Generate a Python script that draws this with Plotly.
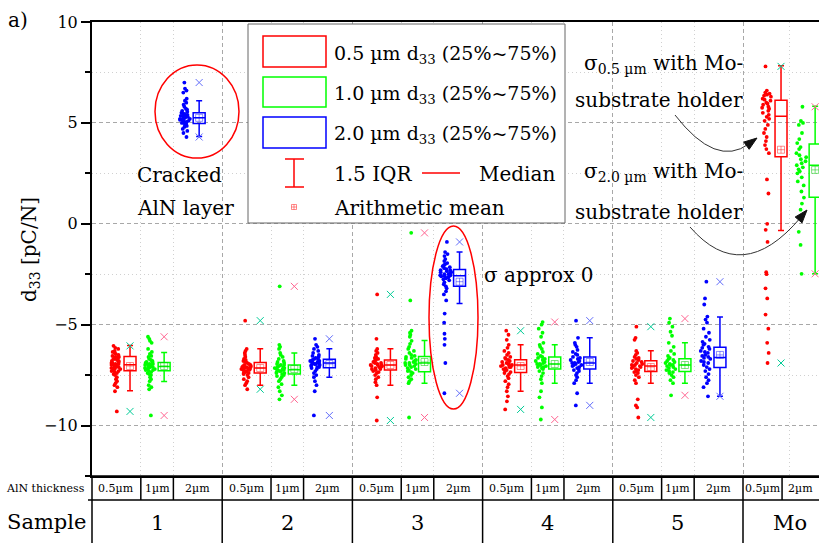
import plotly.graph_objects as go

# ---------------- data (d33 in pC/N) ----------------
samples = ["1", "2", "3", "4", "5", "Mo"]
thick_std = ["0.5µm", "1µm", "2µm"]
thick_mo = ["0.5µm", "2µm"]

s1_red = [-6.05, -6.15, -6.2, -6.3, -6.35, -6.4, -6.45, -6.5, -6.55, -6.6, -6.6, -6.65, -6.7, -6.7,
          -6.75, -6.8, -6.8, -6.85, -6.9, -6.9, -6.95, -6.95, -7.0, -7.0, -7.0, -7.05, -7.05, -7.1,
          -7.1, -7.15, -7.15, -7.2, -7.2, -7.25, -7.3, -7.3, -7.35, -7.4, -7.45, -7.5, -7.6, -7.7,
          -7.8, -7.9, -8.0, -8.1, -8.3, -9.3]
s1_green = [-5.6, -5.7, -5.8, -5.9, -6.2, -6.35, -6.45, -6.55, -6.6, -6.7, -6.75, -6.8, -6.85,
            -6.85, -6.9, -6.9, -6.95, -6.95, -7.0, -7.0, -7.0, -7.05, -7.05, -7.1, -7.1, -7.1,
            -7.15, -7.15, -7.2, -7.2, -7.25, -7.25, -7.3, -7.35, -7.4, -7.45, -7.5, -7.6, -7.7,
            -7.8, -8.0, -8.1, -8.2, -9.5]
s1_blue = [7.0, 6.7, 6.6, 6.5, 6.2, 6.1, 6.0, 5.9, 5.8, 5.7, 5.65, 5.6, 5.55, 5.5, 5.5, 5.45, 5.4,
           5.4, 5.35, 5.35, 5.3, 5.3, 5.3, 5.25, 5.25, 5.2, 5.2, 5.2, 5.15, 5.15, 5.1, 5.1, 5.05,
           5.0, 5.0, 4.95, 4.9, 4.85, 4.8, 4.7, 4.6, 4.5, 4.3]
s2_red = [-4.8, -6.2, -6.3, -6.4, -6.5, -6.6, -6.7, -6.75, -6.8, -6.85, -6.9, -6.95, -7.0, -7.0,
          -7.05, -7.05, -7.1, -7.1, -7.1, -7.15, -7.15, -7.15, -7.2, -7.2, -7.2, -7.25, -7.25,
          -7.3, -7.3, -7.35, -7.4, -7.4, -7.45, -7.5, -7.6, -7.7, -7.8, -7.9, -8.0, -8.2]
s2_green = [-3.1, -6.0, -6.1, -6.2, -6.4, -6.5, -6.6, -6.7, -6.8, -6.85, -6.9, -6.95, -7.0, -7.0,
            -7.05, -7.1, -7.1, -7.15, -7.15, -7.2, -7.2, -7.25, -7.25, -7.3, -7.3, -7.35, -7.4,
            -7.4, -7.45, -7.5, -7.55, -7.6, -7.7, -7.8, -7.95, -8.1, -8.3, -8.5, -8.7]
s2_blue = [-5.7, -6.0, -6.1, -6.2, -6.3, -6.4, -6.5, -6.55, -6.6, -6.65, -6.7, -6.7, -6.75, -6.8,
           -6.8, -6.85, -6.85, -6.9, -6.9, -6.95, -6.95, -7.0, -7.0, -7.05, -7.1, -7.1, -7.15,
           -7.2, -7.3, -7.4, -7.5, -7.6, -7.8, -8.0, -8.3, -9.5]
s3_red = [-3.5, -5.7, -6.2, -6.3, -6.4, -6.5, -6.6, -6.65, -6.7, -6.75, -6.8, -6.85, -6.9, -6.9,
          -6.95, -7.0, -7.0, -7.0, -7.05, -7.05, -7.1, -7.1, -7.15, -7.2, -7.2, -7.25, -7.3,
          -7.35, -7.4, -7.5, -7.6, -7.7, -7.85, -8.0, -8.6, -9.75]
s3_green = [-0.45, -3.8, -5.3, -5.4, -5.5, -5.6, -5.8, -5.95, -6.1, -6.2, -6.3, -6.4, -6.5, -6.55,
            -6.6, -6.65, -6.7, -6.75, -6.8, -6.85, -6.9, -6.9, -6.95, -7.0, -7.0, -7.05, -7.1,
            -7.15, -7.2, -7.25, -7.3, -7.35, -7.4, -7.5, -7.6, -7.7, -7.8, -7.9, -9.6]
s3_blue = [-0.9, -1.4, -1.5, -1.6, -1.75, -1.85, -1.95, -2.0, -2.05, -2.1, -2.15, -2.2, -2.25,
           -2.3, -2.3, -2.35, -2.4, -2.4, -2.45, -2.5, -2.5, -2.55, -2.55, -2.6, -2.6, -2.65,
           -2.7, -2.75, -2.8, -2.9, -3.0, -3.1, -3.2, -3.35, -3.5, -3.8, -4.45, -4.9, -5.45,
           -5.7, -6.0, -6.9, -8.4]
s4_red = [-5.3, -5.5, -5.75, -6.0, -6.15, -6.3, -6.4, -6.5, -6.6, -6.65, -6.7, -6.75, -6.8, -6.85,
          -6.9, -6.95, -7.0, -7.0, -7.0, -7.05, -7.1, -7.1, -7.15, -7.2, -7.25, -7.3, -7.35,
          -7.4, -7.45, -7.55, -7.65, -7.8, -7.95, -8.1, -8.3, -8.55, -8.8, -9.2]
s4_green = [-4.87, -5.0, -5.2, -5.4, -5.6, -5.9, -6.0, -6.1, -6.2, -6.35, -6.45, -6.55, -6.6,
            -6.65, -6.7, -6.75, -6.8, -6.85, -6.9, -6.95, -6.95, -7.0, -7.0, -7.05, -7.1, -7.1,
            -7.15, -7.2, -7.3, -7.4, -7.55, -7.7, -7.9, -8.3, -8.6, -9.1, -9.7]
s4_blue = [-4.8, -5.65, -5.9, -6.0, -6.1, -6.25, -6.35, -6.45, -6.5, -6.6, -6.65, -6.7, -6.75,
           -6.8, -6.85, -6.9, -6.9, -6.95, -7.0, -7.0, -7.05, -7.1, -7.15, -7.2, -7.25, -7.3,
           -7.4, -7.5, -7.6, -7.75, -7.9, -8.4, -9.0]
s5_red = [-5.1, -5.65, -5.75, -6.3, -6.4, -6.5, -6.6, -6.65, -6.7, -6.75, -6.8, -6.85, -6.9,
          -6.95, -7.0, -7.0, -7.05, -7.05, -7.1, -7.1, -7.15, -7.2, -7.25, -7.3, -7.35, -7.4,
          -7.5, -7.6, -7.75, -7.9, -8.7, -9.0, -9.1, -9.6]
s5_green = [-4.7, -4.9, -5.1, -5.35, -5.55, -5.9, -6.1, -6.3, -6.45, -6.55, -6.65, -6.7, -6.75,
            -6.8, -6.85, -6.9, -6.95, -7.0, -7.0, -7.05, -7.1, -7.15, -7.2, -7.25, -7.3, -7.35,
            -7.4, -7.5, -7.6, -7.75, -7.9, -8.5]
s5_blue = [-2.87, -3.7, -4.0, -4.6, -4.75, -4.9, -5.2, -5.4, -5.6, -5.75, -5.85, -5.95, -6.0,
           -6.1, -6.15, -6.2, -6.3, -6.35, -6.4, -6.5, -6.55, -6.6, -6.65, -6.7, -6.8, -6.85,
           -6.9, -7.0, -7.1, -7.2, -7.3, -7.45, -7.6, -7.75, -7.9, -8.1, -8.55]
mo_red = [7.8, 6.6, 6.5, 6.45, 6.4, 6.35, 6.3, 6.2, 6.15, 6.1, 6.0, 5.95, 5.9, 5.8, 5.75, 5.7,
          5.6, 5.5, 5.4, 5.3, 5.2, 5.1, 4.9, 4.7, 4.5, 4.3, 4.1, 3.9, 3.7, 3.5, 2.2, 1.5, 0.0,
          -0.3, -0.9, -2.4, -2.5, -3.2, -3.7, -4.5, -5.2, -5.9, -6.4, -6.9]
mo_green = [5.8, 5.1, 5.0, 4.9, 4.5, 4.2, 4.0, 3.8, 3.7, 3.5, 3.4, 3.3, 3.2, 3.1, 3.0, 2.9, 2.8,
            2.7, 2.6, 2.5, 2.3, 2.1, 1.9, 1.6, 1.3, 1.0, 0.7, 0.3, -0.4, -1.05, -2.48]

# box statistics (25%, median, 75%, 1.5 IQR whiskers, arithmetic mean)
red_q1 = [-7.29, -7.40, -7.25, -7.37, -7.32, 3.32]
red_med = [-6.99, -7.15, -7.00, -7.00, -7.05, 5.33]
red_q3 = [-6.58, -6.87, -6.75, -6.74, -6.79, 6.12]
red_lo = [-8.28, -8.00, -8.00, -8.30, -7.90, -0.33]
red_hi = [-6.03, -6.19, -6.19, -6.00, -6.29, 7.83]
red_mean = [-7.05, -7.15, -7.00, -7.05, -7.10, 3.67]

green_q1 = [-7.29, -7.45, -7.33, -7.20, -7.32, 1.32]
green_med = [-7.07, -7.24, -6.90, -6.95, -7.00, 2.90]
green_q3 = [-6.87, -7.00, -6.58, -6.60, -6.69, 3.95]
green_lo = [-7.82, -8.00, -7.90, -7.90, -7.90, -2.48]
green_hi = [-6.38, -6.40, -5.78, -6.00, -5.90, 5.83]
green_mean = [-7.05, -7.20, -6.85, -6.95, -7.00, 2.67]

blue_q1 = [4.97, -7.13, -3.10, -7.20, -7.12]
blue_med = [5.25, -6.90, -2.57, -6.90, -6.63]
blue_q3 = [5.50, -6.71, -2.27, -6.60, -6.12]
blue_lo = [4.33, -7.60, -3.95, -7.90, -8.55]
blue_hi = [6.10, -6.19, -1.40, -5.65, -4.62]
blue_mean = [5.25, -6.95, -2.87, -6.85, -6.50]

red_sets = [s1_red, s2_red, s3_red, s4_red, s5_red, mo_red]
green_sets = [s1_green, s2_green, s3_green, s4_green, s5_green, mo_green]
blue_sets = [s1_blue, s2_blue, s3_blue, s4_blue, s5_blue]

# ---------------- styling / layout constants ----------------
RED, GREEN, BLUE = "#ff0000", "#00ff00", "#0000ff"
FAINT = {RED: "rgba(255,0,0,0.45)", GREEN: "rgba(0,200,0,0.5)", BLUE: "rgba(0,0,255,0.45)"}
OFFS = {RED: -0.208, GREEN: 0.054, BLUE: 0.323}
PTS_SHIFT = -0.1075          # scatter cloud sits left of its box
BOXW = 0.092
FONT = "DejaVu Serif"
L, T, PW, PH = 92, 22, 727, 454
GROUPW = 130.2
XMAX = 0.5 + PW / GROUPW


def X(px):
    return (px - L) / PW


def Y(py):
    return (T + PH - py) / PH


fig = go.Figure()


def add_series(sets, q1, med, q3, lo, hi, mean, color):
    pos = [k + 1 + OFFS[color] for k in range(len(sets))]
    # jittered raw points (hidden box, points only)
    xs, ys = [], []
    for p, vals in zip(pos, sets):
        xs += [p + PTS_SHIFT] * len(vals)
        ys += vals
    fig.add_trace(go.Box(x=xs, y=ys, width=BOXW, boxpoints="all", jitter=1.0, pointpos=0,
                         marker=dict(color=color, size=3.8, line=dict(width=0)),
                         line=dict(color="rgba(0,0,0,0)", width=0),
                         fillcolor="rgba(0,0,0,0)", hoverinfo="skip"))
    # box with precomputed statistics
    fig.add_trace(go.Box(x=pos, q1=q1, median=med, q3=q3, lowerfence=lo, upperfence=hi,
                         orientation="v", width=BOXW, whiskerwidth=0.5, boxpoints=False,
                         line=dict(color=color, width=1.5), fillcolor="rgba(0,0,0,0)",
                         hoverinfo="skip"))
    # min / max crosses
    fig.add_trace(go.Scatter(x=pos + pos, y=[min(v) for v in sets] + [max(v) for v in sets],
                             mode="markers", hoverinfo="skip",
                             marker=dict(symbol="x-thin-open", size=7,
                                         line=dict(color=FAINT[color], width=1))))
    # arithmetic mean
    fig.add_trace(go.Scatter(x=pos, y=mean, mode="markers", hoverinfo="skip",
                             marker=dict(symbol="square-cross-open", size=7,
                                         color=FAINT[color], line=dict(width=1))))


add_series(red_sets, red_q1, red_med, red_q3, red_lo, red_hi, red_mean, RED)
add_series(green_sets, green_q1, green_med, green_q3, green_lo, green_hi, green_mean, GREEN)
add_series(blue_sets, blue_q1, blue_med, blue_q3, blue_lo, blue_hi, blue_mean, BLUE)

shapes = []
annotations = []


def line(x0, y0, x1, y1, color="black", width=1, xref="paper", yref="paper"):
    shapes.append(dict(type="line", x0=x0, y0=y0, x1=x1, y1=y1, xref=xref, yref=yref,
                       layer="above", line=dict(color=color, width=width)))


def text(px, py, s, size=20, xanchor="left", color="black", xref="paper", x=None):
    annotations.append(dict(x=X(px) if x is None else x, y=Y(py), xref=xref, yref="paper",
                            text=s, showarrow=False, xanchor=xanchor, yanchor="middle",
                            font=dict(family=FONT, size=size, color=color)))


# ---------- legend box ----------
shapes.append(dict(type="rect", xref="paper", yref="paper", x0=X(248), x1=X(565), y0=Y(223),
                   y1=Y(24), fillcolor="white", line=dict(color="#666666", width=1), layer="above"))
for c, (ya, yb) in zip([RED, GREEN, BLUE], [(36, 67), (77, 107), (117, 148)]):
    shapes.append(dict(type="rect", xref="paper", yref="paper", x0=X(263), x1=X(326), y0=Y(yb),
                       y1=Y(ya), line=dict(color=c, width=1.5), layer="above"))
line(X(294), Y(159), X(294), Y(187), RED, 1.5)
line(X(285), Y(159), X(304), Y(159), RED, 1.5)
line(X(285), Y(187), X(304), Y(187), RED, 1.5)
line(X(422), Y(173), X(460), Y(173), RED, 1.5)
shapes.append(dict(type="rect", xref="paper", yref="paper", x0=X(291.5), x1=X(296.5),
                   y0=Y(209.5), y1=Y(204.5), line=dict(color=FAINT[RED], width=1), layer="above"))
line(X(294), Y(209.5), X(294), Y(204.5), FAINT[RED], 1)
line(X(291.5), Y(207), X(296.5), Y(207), FAINT[RED], 1)

text(332, 54, "0.5 µm d<sub>33</sub> (25%~75%)", 19)
text(332, 94, "1.0 µm d<sub>33</sub> (25%~75%)", 19)
text(332, 134, "2.0 µm d<sub>33</sub> (25%~75%)", 19)
text(332, 174, "1.5 IQR", 20)
text(477, 174, "Median", 20)
text(332, 208, "Arithmetic mean", 20)

# ---------- annotations in the plot ----------
text(18, 20, "a)", 20, "center")
text(135, 175, "Cracked", 20)
text(135, 208, "AlN layer", 20)
text(482, 275, "σ approx 0", 20)
text(745, 64, "σ<sub>0.5 µm</sub> with Mo-", 20, "right")
text(745, 100, "substrate holder", 20, "right")
text(745, 172, "σ<sub>2.0 µm</sub> with Mo-", 20, "right")
text(745, 212, "substrate holder", 20, "right")
annotations.append(dict(x=X(30), y=Y(250), xref="paper", yref="paper",
                        text="d<sub>33</sub> [pC/N]", textangle=-90, showarrow=False,
                        xanchor="center", yanchor="middle", font=dict(family=FONT, size=20)))

shapes.append(dict(type="circle", xref="paper", yref="paper", x0=X(155), x1=X(239), y0=Y(158),
                   y1=Y(65), line=dict(color=RED, width=1.5), layer="above"))
shapes.append(dict(type="circle", xref="paper", yref="paper", x0=X(429), x1=X(478), y0=Y(409),
                   y1=Y(226), line=dict(color=RED, width=1.5), layer="above"))


def curve_arrow(p0, p1, p2, head_len=13, head_half=4.5):
    dx, dy = p2[0] - p1[0], p2[1] - p1[1]
    n = (dx * dx + dy * dy) ** 0.5
    ux, uy = dx / n, dy / n
    vx, vy = -uy, ux
    bx, by = p2[0] - ux * head_len, p2[1] - uy * head_len
    # curve ends at the base of the arrow head
    path = "M {} {} Q {} {} {} {}".format(X(p0[0]), Y(p0[1]), X(p1[0]), Y(p1[1]),
                                          X(bx + ux * 3), Y(by + uy * 3))
    shapes.append(dict(type="path", path=path, xref="paper", yref="paper", layer="above",
                       line=dict(color="#333333", width=1)))
    head = "M {} {} L {} {} L {} {} Z".format(
        X(p2[0]), Y(p2[1]),
        X(bx + vx * head_half), Y(by + vy * head_half),
        X(bx - vx * head_half), Y(by - vy * head_half))
    shapes.append(dict(type="path", path=head, xref="paper", yref="paper", layer="above",
                       fillcolor="#111111", line=dict(color="#111111", width=1)))


curve_arrow((675, 115), (716, 168), (757, 138))
curve_arrow((690, 227), (742, 287), (807, 210))

# ---------- table below the axis ----------
line(X(88), Y(476), 1, Y(476), "black", 1.5)
line(X(88), Y(500), 1, Y(500), "black", 1.5)
line(0, Y(476), 0, Y(543), "black", 1.5)
for k in range(1, 6):
    line(k + 0.5, Y(476), k + 0.5, Y(543), "black", 1.5, xref="x")
    for f in (0.375, 0.625):
        line(k - 0.5 + f, Y(476), k - 0.5 + f, Y(500), "black", 1.5, xref="x")
line(5.5 + 0.3, Y(476), 5.5 + 0.3, Y(500), "black", 1.5, xref="x")

text(87, 488, "AlN thickness", 11, "right")
text(88, 522, "Sample", 21, "right")
for k in range(1, 6):
    for lab, c in zip(thick_std, (0.1875, 0.5, 0.8125)):
        text(0, 488, lab, 11, "center", xref="x", x=k - 0.5 + c)
for lab, c in zip(thick_mo, (0.15, 0.44)):
    text(0, 488, lab, 11, "center", xref="x", x=5.5 + c)
for k, lab in enumerate(samples, start=1):
    text(0, 523, lab, 21, "center", xref="x", x=k if k < 6 else 5.86)

fig.update_layout(
    width=819, height=543, margin=dict(l=L, r=0, t=T, b=543 - T - PH, pad=0),
    paper_bgcolor="white", plot_bgcolor="white", showlegend=False, boxmode="overlay",
    hovermode=False, font=dict(family=FONT, color="black"),
    shapes=shapes, annotations=annotations,
    xaxis=dict(range=[0.5, XMAX], tickmode="array", tickvals=[1.5, 2.5, 3.5, 4.5, 5.5],
               showticklabels=False, ticks="", showgrid=True, gridcolor="#a8a8a8",
               griddash="4px,3px", gridwidth=1, showline=True, mirror=True, linecolor="black",
               linewidth=2, zeroline=False,
               minor=dict(tickmode="array",
                          tickvals=[k - 0.5 + f for k in range(1, 6) for f in (0.375, 0.625)]
                          + [5.86],
                          showgrid=True, gridcolor="#d0d0d0", griddash="1px,3px", ticks="")),
    yaxis=dict(range=[-12.5, 10], tickmode="linear", tick0=0, dtick=5, ticks="outside",
               ticklen=9, tickwidth=2, tickcolor="black", showline=True, linecolor="black",
               linewidth=2, showgrid=True, gridcolor="#a8a8a8", griddash="4px,3px",
               zeroline=False, tickfont=dict(size=16, family=FONT),
               minor=dict(tick0=0, dtick=2.5, ticks="outside", ticklen=5, tickwidth=1.5,
                          tickcolor="black", showgrid=True, gridcolor="#d0d0d0",
                          griddash="1px,3px")),
)

fig.write_html("out.html")
